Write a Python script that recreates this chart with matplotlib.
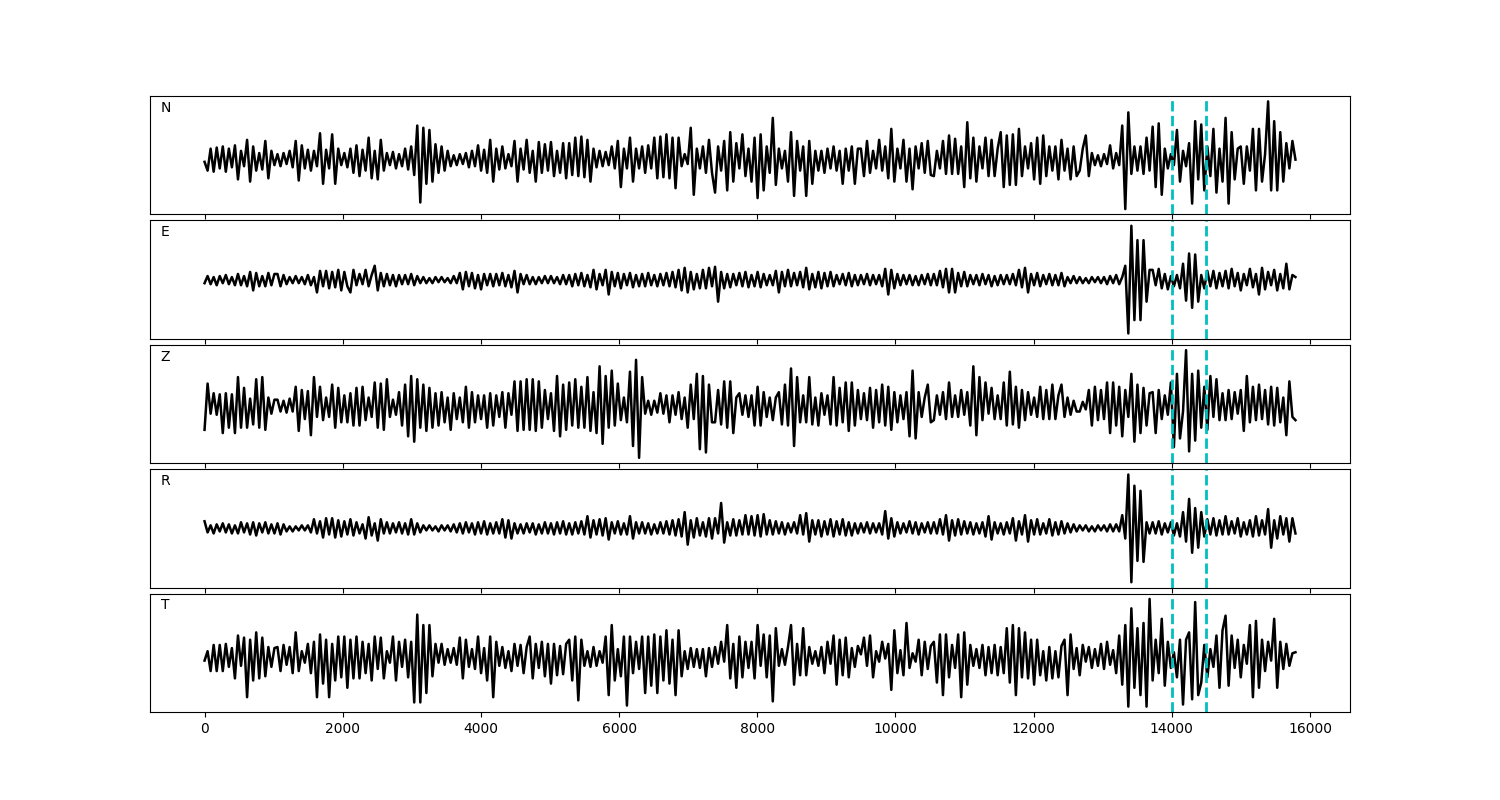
import numpy as np
import matplotlib.pyplot as plt

n_trace = np.array([
    -2, -10, 10, -11, 11, -8, 12, -11, 10, -7, 13, -18, 8, -6, 18, -20, 12, -10, 6, -9, 17, -17, 8, -5,
    5, -6, 6, -4, 8, -7, 17, -19, 13, -8, 9, -10, 8, -6, 24, -22, 9, -8, 23, -22, 10, -5, 6, -7,
    10, -12, 13, -15, 9, -10, 20, -17, 8, -18, 18, -10, 6, -5, 7, -8, 5, -6, 10, -9, 12, -14, 31, -39,
    29, -22, 27, -20, 14, -12, 12, -10, 8, -6, 4, -5, 5, -4, 6, -7, 8, -6, 13, -10, 9, -12, 18, -20,
    10, -9, 12, -8, 5, -6, 17, -20, 10, -9, 18, -12, 8, -20, 16, -12, 14, -10, 16, -15, 8, -12, 15, -17,
    15, -14, 20, -15, 21, -16, 18, -20, 10, -7, 8, -6, 7, -5, 12, -8, 17, -25, 10, -8, 20, -20, 10, -8,
    12, -12, 13, -8, 20, -17, 21, -16, 23, -17, 20, -26, 20, -6, 5, -4, 29, -32, 10, -8, 12, -12, 18, -12,
    -30, 12, -10, 17, -28, 25, -20, 15, -8, 23, -15, 10, -20, 20, -35, 23, -28, 12, -12, 38, -23, 10, -8, 8,
    -20, 25, -33, 17, -10, 12, -33, 17, -22, 8, -10, 8, -12, 10, -8, 12, -10, 8, -22, 10, -10, 12, -22, 10,
    10, -15, 17, -12, 8, -8, 18, -10, 12, -17, 28, -20, 10, -8, 18, -20, 10, -27, 12, -8, 15, -12, 17, -14,
    -15, 8, -8, 17, -13, 22, -13, 19, -13, 12, -25, 34, -17, 20, -20, 12, -8, 20, -15, 18, -15, 10, 25, -25,
    22, -23, 23, -23, 28, -15, 12, -8, 15, -18, 20, -22, 22, -15, 12, -10, 12, -18, 18, -10, 10, -18, 12, -15,
    -10, 10, 22, -15, 6, -5, 4, -6, 5, -4, 13, -8, 6, -5, 31, -45, 43, -13, 12, -10, 12, -13, 20, -10,
    30, -25, 33, -32, 10, -8, 5, -5, 27, -20, 8, -6, 15, -40, 35, -18, 32, -28, 12, -15, 28, -30, 10, -20,
    38, -40, 25, -18, 10, 12, -22, 12, -10, 28, -28, 28, -20, 5, 53, -28, 35, -28, 25, -20, 15, -8, 17, 0,
])

e_trace = np.array([
    -3, 4, -4, 3, -5, 4, -3, 5, -4, 3, -5, 6, -5, 4, -6, 8, -10, 7, -6, 4, -6, 7, -5, 6,
    6, -6, 5, -4, 3, -3, 4, -3, 3, -4, 5, -5, 3, -12, 9, -6, 9, -8, 8, -7, 10, -10, 8, -6,
    -12, 10, -5, 6, -4, 10, -6, 5, 14, -10, 7, -6, 6, -5, 5, -6, 5, -4, 5, -4, 6, -5, 4, -3,
    3, -3, 2, -3, 3, -2, 3, -2, 2, -3, 4, -3, 7, -9, 8, -6, 7, -8, 5, -9, 6, -5, 6, -6,
    6, -5, 7, -6, 5, -7, 9, -12, 6, -4, 5, -4, 3, -4, 3, -3, 4, -3, 4, -3, 3, -4, 5, -4,
    5, -6, 6, -5, 7, -6, 5, -7, 10, -9, 6, -5, 10, -14, 8, -6, 7, -8, 6, -5, 7, -7, 5, -6,
    6, -6, 7, -5, 5, -6, 6, -5, 7, -6, 8, -7, 10, -10, 12, -12, 8, -9, 6, -8, 10, -8, 12, -6,
    13, -21, 8, -8, 6, -7, 6, -5, 7, -6, 8, -7, 5, -6, 8, -7, 6, -5, 5, -5, 9, -12, 8, -6,
    10, -6, 7, -5, 8, -7, 12, -9, 6, -7, 8, -8, 7, -6, 8, -6, 5, -4, 6, -5, 7, -6, 5, -5,
    5, -4, 6, -5, 5, -4, 5, -6, 11, -14, 10, -8, 6, -5, 5, -4, 5, -5, 4, -5, 5, -4, 6, -5,
    6, -5, 9, -7, 11, -12, 11, -12, 7, -6, 8, -6, 5, -4, 5, -5, 6, -4, 5, -6, 4, -5, 5, -4,
    5, -4, 6, -5, 10, -7, 12, -12, 6, -5, 7, -6, 5, -4, 6, -5, 5, -5, 7, -6, 3, -3, 4, -3,
    3, -3, 2, -3, 3, -2, 3, -3, 3, -4, 4, -3, 5, -4, 3, 14, -52, 53, -39, 39, -39, 39, -21, 10,
    10, -5, 11, -8, 6, -9, 4, -6, 5, -8, 16, -20, 26, -27, 25, -21, 5, -8, 9, -6, 9, -8, 7, -6,
    9, -8, 11, -6, 7, -10, 6, -5, 11, -7, 6, -14, 12, -9, 8, -5, 10, -10, 6, -8, 16, -9, 5, 3,
])

z_trace = np.array([
    -22, 21, -7, 12, -8, 11, -25, 12, -20, 11, -25, 27, -20, 17, -20, 7, -17, 25, -20, 27, -22, 8, -7, 6,
    6, -5, 5, -6, 7, -5, 18, -23, 15, -12, 14, -27, 27, -10, 18, -13, 8, -10, 20, -20, 17, -15, 10, -15,
    12, -18, 17, -18, 18, -13, 8, -10, 22, -20, 21, -22, 25, -10, 6, -8, 13, -18, 20, -28, 28, -33, 25, -20,
    20, -23, 17, -20, 12, -18, 13, -15, 8, -22, 12, -12, 8, -15, 18, -20, 13, -15, 10, -12, 10, -20, 12, -18,
    10, -10, 13, -20, 12, -8, 23, -23, 23, -22, 25, -22, 25, -23, 23, -20, 15, -12, 12, -23, 28, -28, 20, -22,
    22, -18, 25, -20, 18, -20, 27, -23, 13, -25, 37, -35, 28, -20, 33, -18, 21, -13, 8, -15, 32, -37, 43, -48,
    27, -7, 5, -8, 5, -6, 12, -7, 10, -15, 10, -8, 13, -12, 8, -20, 20, -12, 30, -40, 28, -43, 20, -15,
    -15, 15, -17, 23, -20, 23, -25, 8, 12, -8, 10, -10, 10, -18, 18, -18, 13, -10, 8, -13, 8, 13, -17, 20,
    -18, 35, -37, 27, -15, 10, -15, 27, -17, 8, -18, 12, -8, 10, -17, 27, -18, 17, -15, 22, -23, 22, -18, 15,
    -12, 12, -13, 17, -20, 15, -15, 20, -18, 18, -22, 13, -15, 10, -12, 13, -28, 33, -30, 13, -10, 8, 20, -15,
    -13, 10, -8, 13, -12, 22, -10, 10, -10, 15, -8, 13, -18, 37, -27, 27, -13, 22, -7, 17, -12, 10, -12, 22,
    -18, 32, -17, 18, -20, 15, -13, 13, -8, 8, -10, 18, -12, 15, -12, 20, -12, 10, 20, -10, 8, -8, 5, -5,
    -5, 4, -3, 15, -18, 18, -13, 15, -12, 22, -25, 22, -18, 18, -28, 15, -10, 30, -33, 20, -25, 17, -18, 12,
    13, -25, 15, -12, 10, -8, 22, -38, 30, -30, -5, 52, -42, 30, -32, 33, -20, 18, -22, 28, -10, 25, -13, 12,
    -13, 15, -12, 13, -7, 15, -23, 28, -15, 18, -13, 20, -12, 15, -17, 18, -18, 17, -15, 8, -27, 23, -10, -13,
])

r_trace = np.array([
    7, -4, 3, -5, 4, -3, 5, -4, 4, -5, 3, -5, 6, -4, 5, -6, 6, -7, 5, -4, 6, -5, 4, -5,
    5, -6, 4, -3, 2, -3, 2, -2, 3, -2, 3, -4, 9, -5, 7, -9, 10, -6, 10, -9, 8, -8, 7, -6,
    9, -7, 6, -5, 4, -10, 11, -7, 5, -12, 9, -5, 6, -5, 5, -4, 6, -5, 5, -6, 9, -6, 5, -4,
    3, -2, 3, -2, 2, -3, 3, -2, 3, -3, 4, -4, 5, -5, 6, -4, 5, -6, 6, -5, 7, -6, 5, -5,
    6, -5, 9, -9, 8, -10, 5, -5, 4, -5, 5, -4, 5, -6, 4, -5, 6, -5, 5, -6, 6, -5, 7, -6,
    5, -6, 6, -5, 7, -6, 12, -9, 8, -6, 9, -7, 10, -11, 6, -5, 7, -6, 5, -6, 12, -10, 6, -5,
    6, -5, 5, -6, 4, -5, 6, -5, 7, -6, 8, -7, 9, -8, 16, -16, 8, -9, 10, -7, 6, -8, 10, -10,
    10, -5, 25, -14, 6, -7, 9, -7, 8, -6, 13, -6, 12, -7, 13, -8, 14, -6, 8, -6, 7, -5, 6, -6,
    5, -4, 6, -5, 13, -6, 15, -13, 8, -6, 8, -8, 7, -6, 9, -8, 7, -6, 9, -7, 6, -7, 5, -5,
    5, -4, 6, -5, 5, -4, 5, -6, 17, -10, 10, -8, 6, -5, 5, -4, 7, -5, 6, -6, 5, -4, 6, -5,
    6, -5, 9, -6, 13, -12, 8, -7, 9, -6, 7, -5, 6, -6, 5, -5, 6, -8, 12, -11, 6, -5, 5, -6,
    6, -5, 10, -12, 7, -6, 13, -13, 8, -6, 9, -6, 5, -5, 9, -7, 6, -6, 7, -5, 5, -4, 4, -3,
    3, -2, 3, -3, 2, -3, 3, -2, 3, -3, 4, -3, 4, -3, 13, -10, 53, -53, 42, -32, 37, -33, 6, -5,
    6, -5, 7, -6, 5, -4, 6, -7, 5, -8, 16, -13, 29, -24, 20, -19, 16, -8, 9, -6, 10, -7, 8, -6,
    12, -6, 7, -5, 10, -8, 6, -6, 8, -8, 12, -7, 8, -6, 19, -19, 8, -10, 12, -6, 10, -13, 10, -5,
])

t_trace = np.array([
    -4, 5, -14, 11, -14, 11, -14, 12, -10, 8, -21, 20, -9, 18, -39, 16, -23, 23, -21, 18, -19, 9, -10, 8,
    9, -14, 11, -8, 9, -16, 23, -14, 5, -6, 12, -16, 14, -39, 21, -26, 16, -39, 12, -23, 19, -20, 19, -30,
    16, -21, 19, -21, 14, -16, 12, -23, 19, -12, 18, -21, 5, -6, 19, -23, 14, -10, 16, -20, 14, -44, 40, -44,
    30, -35, 30, -19, 12, -6, 12, -8, 7, -6, 8, -8, 18, -21, 16, -10, 7, -12, 19, -16, 8, -23, 19, -39,
    14, -9, 9, -11, 5, -14, 12, -9, 11, -16, 9, 19, -21, 12, -11, 14, -19, 12, -26, 12, -18, 10, -17, 12,
    16, -23, 19, -42, 16, -9, 5, -10, 9, -9, 5, -6, 19, -37, 30, -23, 7, -19, 19, -47, 19, -16, 14, -12,
    19, -35, 19, -28, 21, -35, 19, -23, 25, -26, 16, -37, 25, -19, 5, -12, 8, -10, 7, -11, 7, -19, 8, -10,
    9, -7, 14, -5, 30, -21, 12, -30, 19, -20, 14, -11, 14, -21, 30, -9, 21, -20, 20, -43, 27, -9, 7, -8,
    9, 30, -27, 12, -18, 27, -18, 9, -7, 5, -9, 9, -16, 14, -7, 20, -27, 16, -18, 18, -20, 8, -10, 10,
    2, 18, -9, 20, -20, 5, -5, 14, -2, 12, -32, 25, -16, 6, -18, 32, -11, 3, -5, 16, -18, 14, -12, 10,
    14, -25, 21, -37, 21, -20, 11, -11, 21, -39, 23, -27, 11, -9, 7, -11, 11, -18, 9, -16, 11, -18, 9, -16,
    27, -25, 30, -37, 27, -20, 23, -21, 16, -27, 16, -18, 5, -23, 9, -21, 5, -20, 10, 16, -37, 21, -12, 8,
    -18, 11, -5, 9, -11, 7, -9, 12, -12, 14, -8, 6, -16, 20, -27, 30, -48, 46, -30, 27, -37, 32, -48, 55,
    -23, 16, -16, 36, -28, 14, -11, 4, -20, 16, -46, 16, 23, -41, 52, -37, -25, 11, -20, 7, -10, 20, -30, 25,
    39, -28, 20, -11, 16, -20, 11, -7, 30, -39, 34, -30, 16, -14, 14, -4, 36, -30, 14, -12, 12, -9, 3, 4,
])

components = ["N", "E", "Z", "R", "T"]
traces = [n_trace, e_trace, z_trace, r_trace, t_trace]
picks = [14000, 14500]
n_samples = 15790

fig, axes = plt.subplots(5, 1, sharex=True, figsize=(15, 8))
fig.subplots_adjust(left=0.1, right=0.9, top=0.88, bottom=0.11, hspace=0.05)

for ax, name, tr in zip(axes, components, traces):
    t = np.linspace(0, n_samples, len(tr))
    ax.plot(t, tr, color="k", lw=1.8)
    for p in picks:
        ax.axvline(p, color="c", ls="--", lw=2)
    ax.set_yticks([])
    ax.text(0.009, 0.9, name, transform=ax.transAxes, va="center")

plt.savefig("out.png", dpi=100)
